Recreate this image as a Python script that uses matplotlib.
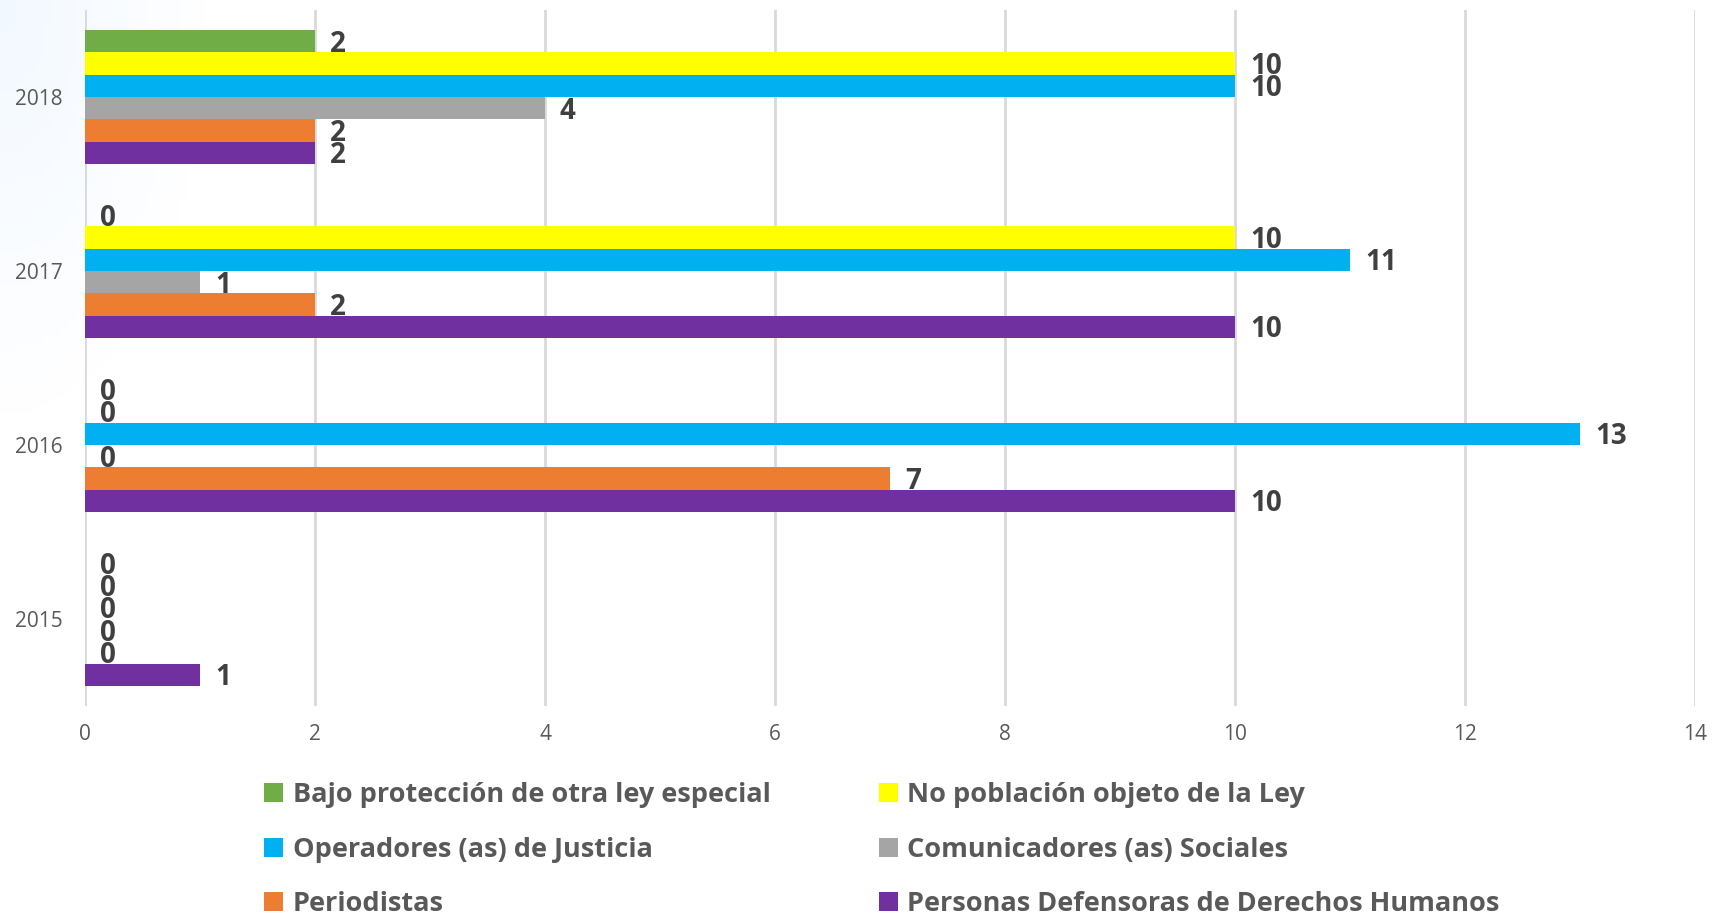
import numpy as np
import matplotlib
matplotlib.use("Agg")
from matplotlib import pyplot as plt

years = ["2015", "2016", "2017", "2018"]
series_names = [
    "Bajo protección de otra ley especial",
    "No población objeto de la Ley",
    "Operadores (as) de Justicia",
    "Comunicadores (as) Sociales",
    "Periodistas",
    "Personas Defensoras de Derechos Humanos",
]
colors = ["#70ad47", "#ffff00", "#00b0f0", "#a5a5a5", "#ed7d31", "#7030a0"]

# values per year, order 2015..2018
bajo_proteccion = [0, 0, 0, 2]
no_poblacion = [0, 0, 10, 10]
operadores = [0, 13, 11, 10]
comunicadores = [0, 0, 1, 4]
periodistas = [0, 7, 2, 2]
defensoras = [1, 10, 10, 2]
all_series = [bajo_proteccion, no_poblacion, operadores, comunicadores, periodistas, defensoras]

W, H = 1713, 917
fig = plt.figure(figsize=(W / 100, H / 100), dpi=100)
fig.patch.set_facecolor("white")

# faint blue wash in the top-left corner
bg = fig.add_axes([0, 0, 1, 1], zorder=-10)
gx, gy = np.meshgrid(np.linspace(0, 1, 200), np.linspace(0, 1, 120))
wash = np.clip(1 - np.hypot(gx / 0.12, (1 - gy) / 0.45), 0, 1)
rgba = np.ones((120, 200, 4))
rgba[..., 0] = 1 - 0.05 * wash
rgba[..., 1] = 1 - 0.025 * wash
rgba[..., 2] = 1.0
bg.imshow(rgba, extent=[0, 1, 0, 1], aspect="auto", origin="lower")
bg.axis("off")

ax = fig.add_axes([85 / W, 1 - 706 / H, (1695 - 85) / W, (706 - 10) / H])
ax.patch.set_alpha(0)

bh = 0.1287
y = np.arange(len(years))
for j, (vals, name, c) in enumerate(zip(all_series, series_names, colors)):
    pos = y + (2.5 - j) * bh
    ax.barh(pos, vals, height=bh, color=c, label=name, zorder=3)
    for p, v in zip(pos, vals):
        ax.annotate(str(v), (v, p), xytext=(15, -3), textcoords="offset pixels",
                    va="center", ha="left", fontsize=20, fontweight="bold",
                    color="#404040", family="Open Sans")

ax.set_xlim(0, 14)
ax.set_ylim(-0.5, 3.5)
ax.set_xticks(range(0, 15, 2))
ax.set_yticks(y)
ax.set_yticklabels(years)
ax.xaxis.grid(True, color="#d9d9d9", linewidth=2, zorder=0)
for s in ax.spines.values():
    s.set_visible(False)
ax.tick_params(axis="both", length=0, labelsize=15, labelcolor="#595959")
ax.tick_params(axis="x", pad=13)
ax.tick_params(axis="y", pad=16)
for t in ax.get_xticklabels() + ax.get_yticklabels():
    t.set_family("Open Sans")

# legend fills row by row
handles, labels = ax.get_legend_handles_labels()
order = [0, 2, 4, 1, 3, 5]
leg = fig.legend([handles[i] for i in order], [labels[i] for i in order],
                 loc="upper left", bbox_to_anchor=(240 / W, 1 - 758 / H),
                 ncol=2, frameon=False, handlelength=0.7, handleheight=0.7,
                 handletextpad=0.35, columnspacing=4.0, labelspacing=1.05,
                 prop={"family": "Open Sans", "weight": "bold", "size": 19.5})
for t in leg.get_texts():
    t.set_color("#595959")

fig.savefig("out.png", dpi=100)
